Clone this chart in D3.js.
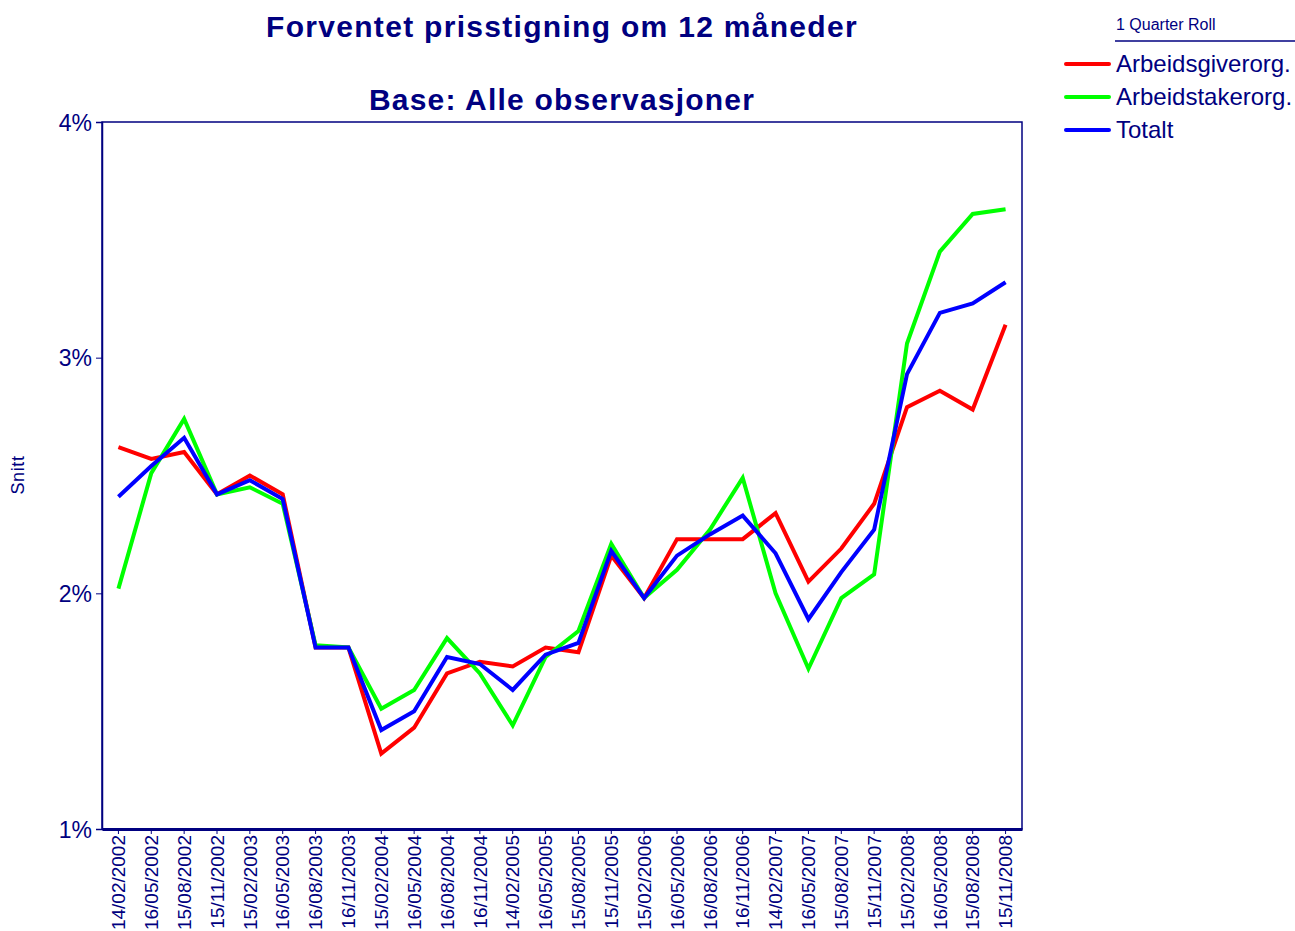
<!DOCTYPE html>
<html>
<head>
<meta charset="utf-8">
<script src="https://cdn.jsdelivr.net/npm/d3@7"></script>
<style>
  body { margin: 0; background: #fff; }
  svg { font-family: Arial, "Liberation Sans", sans-serif; }
</style>
</head>
<body>
<div id="chart"></div>
<script>
// dates on the x axis
var dates = ["14/02/2002","16/05/2002","15/08/2002","15/11/2002","15/02/2003","16/05/2003",
  "16/08/2003","16/11/2003","15/02/2004","16/05/2004","16/08/2004","16/11/2004",
  "14/02/2005","16/05/2005","15/08/2005","15/11/2005","15/02/2006","16/05/2006",
  "16/08/2006","16/11/2006","14/02/2007","16/05/2007","15/08/2007","15/11/2007",
  "15/02/2008","16/05/2008","15/08/2008","15/11/2008"];

// values in percent
var arbeidsgiver = [2.62,2.57,2.60,2.42,2.50,2.42,1.77,1.77,1.32,1.43,1.66,1.71,1.69,1.77,1.75,2.16,
  1.98,2.23,2.23,2.23,2.34,2.05,2.19,2.38,2.79,2.86,2.78,3.14];
var arbeidstaker = [2.02,2.51,2.74,2.42,2.45,2.38,1.78,1.77,1.51,1.59,1.81,1.66,1.44,1.73,1.84,2.21,
  1.98,2.10,2.27,2.49,2.00,1.68,1.98,2.08,3.06,3.45,3.61,3.63];
var totalt = [2.41,2.54,2.66,2.42,2.48,2.40,1.77,1.77,1.42,1.50,1.73,1.70,1.59,1.74,1.79,2.18,
  1.98,2.16,2.25,2.33,2.17,1.89,2.09,2.27,2.93,3.19,3.23,3.32];

var yTicks = [1, 2, 3, 4];

var series = [
  {name: "Arbeidsgiverorg.", values: arbeidsgiver, color: "#ff0000"},
  {name: "Arbeidstakerorg.", values: arbeidstaker, color: "#00ff00"},
  {name: "Totalt", values: totalt, color: "#0000ff"}
];

var navy = "#000080";
var W = 1295, H = 931;
var margin = {top: 122, left: 102, right: 273, bottom: 102};
var width = W - margin.left - margin.right,
    height = H - margin.top - margin.bottom;

var svg = d3.select("#chart").append("svg")
  .attr("width", W).attr("height", H);

var x = d3.scaleBand().domain(dates).range([0, width]);
var y = d3.scaleLinear().domain([1, 4]).range([height, 0]);

var g = svg.append("g")
  .attr("transform", "translate(" + margin.left + "," + margin.top + ")");

// titles
svg.append("text")
  .attr("x", 562).attr("y", 37)
  .attr("text-anchor", "middle")
  .style("font-weight", "bold").style("font-size", "30px").style("fill", navy)
  .style("letter-spacing", "1.3px")
  .text("Forventet prisstigning om 12 måneder");
svg.append("text")
  .attr("x", 562).attr("y", 110)
  .attr("text-anchor", "middle")
  .style("font-weight", "bold").style("font-size", "30px").style("fill", navy)
  .style("letter-spacing", "1.2px")
  .text("Base: Alle observasjoner");

// y axis label
svg.append("text")
  .attr("transform", "translate(24,475) rotate(-90)")
  .attr("text-anchor", "middle")
  .style("font-size", "18px").style("fill", navy)
  .style("letter-spacing", "0.6px")
  .text("Snitt");

// frame
g.append("rect")
  .attr("x", 0).attr("y", 0)
  .attr("width", width).attr("height", height)
  .style("fill", "none").style("stroke", navy).style("stroke-width", 1.5);

// y axis
var yAxis = g.append("g")
  .call(d3.axisLeft(y).tickValues(yTicks).tickSize(6).tickFormat(function(d) { return d + "%"; }));
yAxis.select(".domain").attr("stroke", navy).attr("stroke-width", 1.5);
yAxis.selectAll(".tick line").attr("stroke", navy);
yAxis.selectAll(".tick text")
  .attr("x", -10).attr("dy", "0.35em")
  .style("font-size", "23px").style("fill", navy)
  .style("font-family", "Arial, 'Liberation Sans', sans-serif");

// x axis
var xAxis = g.append("g")
  .attr("transform", "translate(0," + height + ")")
  .call(d3.axisBottom(x).tickSize(5).tickSizeOuter(0));
xAxis.select(".domain").attr("stroke", navy).attr("stroke-width", 3);
xAxis.selectAll(".tick line").attr("stroke", navy);
xAxis.selectAll(".tick text")
  .attr("transform", "rotate(-90)")
  .attr("x", -6).attr("y", 0).attr("dy", "0.35em")
  .attr("text-anchor", "end")
  .style("font-size", "19px").style("fill", navy)
  .style("font-family", "Arial, 'Liberation Sans', sans-serif");

// lines
var line = d3.line()
  .x(function(d, i) { return x(dates[i]) + x.bandwidth() / 2; })
  .y(function(d) { return y(d); });

g.selectAll(".series")
  .data(series)
  .enter().append("path")
  .attr("class", "series")
  .attr("d", function(d) { return line(d.values); })
  .style("fill", "none")
  .style("stroke", function(d) { return d.color; })
  .style("stroke-width", 4)
  .style("stroke-linejoin", "miter");

// legend
var legend = svg.append("g");
legend.append("text")
  .attr("x", 1116).attr("y", 30)
  .style("font-size", "16px").style("fill", navy)
  .text("1 Quarter Roll");
legend.append("line")
  .attr("x1", 1115).attr("x2", 1295).attr("y1", 41).attr("y2", 41)
  .style("stroke", navy).style("stroke-width", 1.5);

var item = legend.selectAll(".item")
  .data(series)
  .enter().append("g")
  .attr("class", "item")
  .attr("transform", function(d, i) { return "translate(0," + (64 + i * 33) + ")"; });
item.append("line")
  .attr("x1", 1066).attr("x2", 1109)
  .style("stroke", function(d) { return d.color; })
  .style("stroke-width", 4).style("stroke-linecap", "round");
item.append("text")
  .attr("x", 1116).attr("dy", "0.35em")
  .style("font-size", "24px").style("fill", navy)
  .text(function(d) { return d.name; });
</script>
</body>
</html>
